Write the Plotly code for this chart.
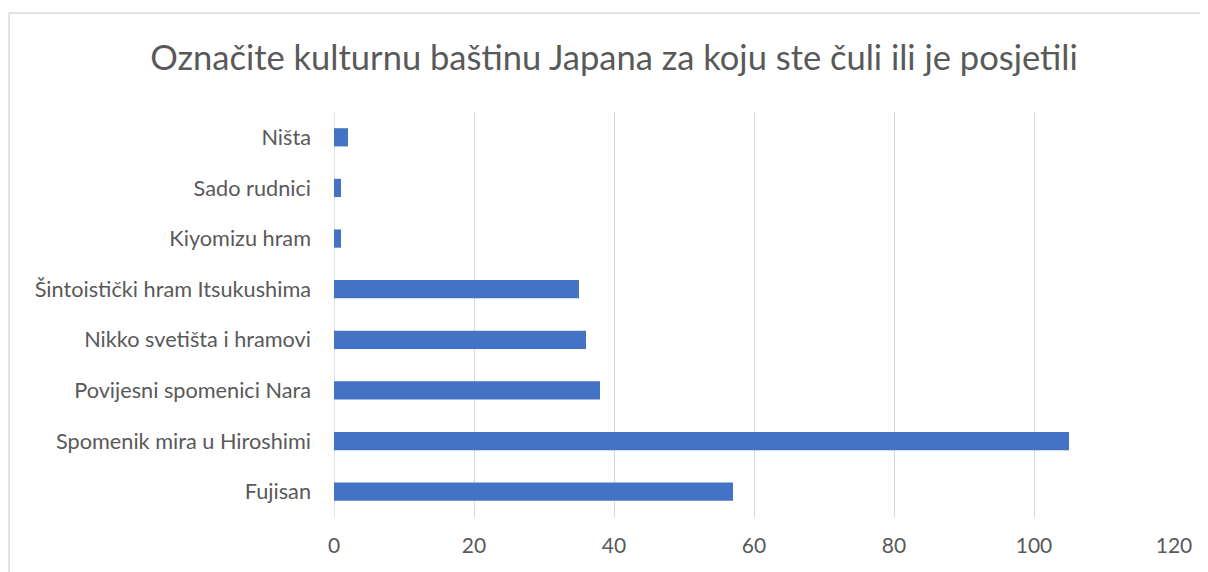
import plotly.graph_objects as go

categories = ["Fujisan", "Spomenik mira u Hiroshimi", "Povijesni spomenici Nara",
              "Nikko svetišta i hramovi", "Šintoistički hram Itsukushima",
              "Kiyomizu hram", "Sado rudnici", "Ništa"]
values = [57, 105, 38, 36, 35, 1, 1, 2]
x_ticks = [0, 20, 40, 60, 80, 100, 120]
title_text = "Označite kulturnu baštinu Japana za koju ste čuli ili je posjetili"

# page body has an 8px margin; figure is offset by it
W, H = 1200, 564
ml, mr, mt, mb = 326, 34, 104, 55
pw, ph = W - ml - mr, H - mt - mb

fig = go.Figure(go.Bar(
    y=categories, x=values, orientation="h",
    marker=dict(color="#4472c4", line=dict(width=0)),
))

bx0 = (1 - ml) / pw
bx1 = (W + 20 - ml) / pw
by0 = -(mb + 20) / ph
by1 = 1 + (mt - 5) / ph

fig.update_layout(
    width=W, height=H,
    margin=dict(l=ml, r=mr, t=mt, b=mb),
    paper_bgcolor="white", plot_bgcolor="white",
    bargap=0.64,
    showlegend=False,
    font=dict(family="Lato, Open Sans, sans-serif", color="#595959", size=21),
    title=dict(text=title_text, x=606 / W, xanchor="center",
               y=1 - 50 / H, yanchor="middle",
               font=dict(family="Lato, Open Sans, sans-serif", size=34.5, color="#595959")),
    xaxis=dict(range=[0, 120], tickvals=x_ticks, showgrid=True, gridcolor="#d9d9d9",
               gridwidth=1, zeroline=False, showline=False, ticks="",
               ticklabelstandoff=14, tickfont=dict(size=21, color="#595959")),
    yaxis=dict(showgrid=False, zeroline=False, showline=False, ticks="",
               ticklabelstandoff=22, tickfont=dict(size=21.7, color="#595959")),
    shapes=[
        dict(type="line", xref="paper", yref="paper", x0=bx0, x1=bx1, y0=by1, y1=by1,
             line=dict(color="#d9d9d9", width=1.5), layer="below"),
        dict(type="line", xref="paper", yref="paper", x0=bx0, x1=bx0, y0=by0, y1=by1,
             line=dict(color="#d9d9d9", width=1.5), layer="below"),
        dict(type="line", xref="x", yref="paper", x0=0, x1=0, y0=0, y1=1,
             line=dict(color="#d9d9d9", width=1.5), layer="below"),
    ],
)

fig.write_html("out.html")
